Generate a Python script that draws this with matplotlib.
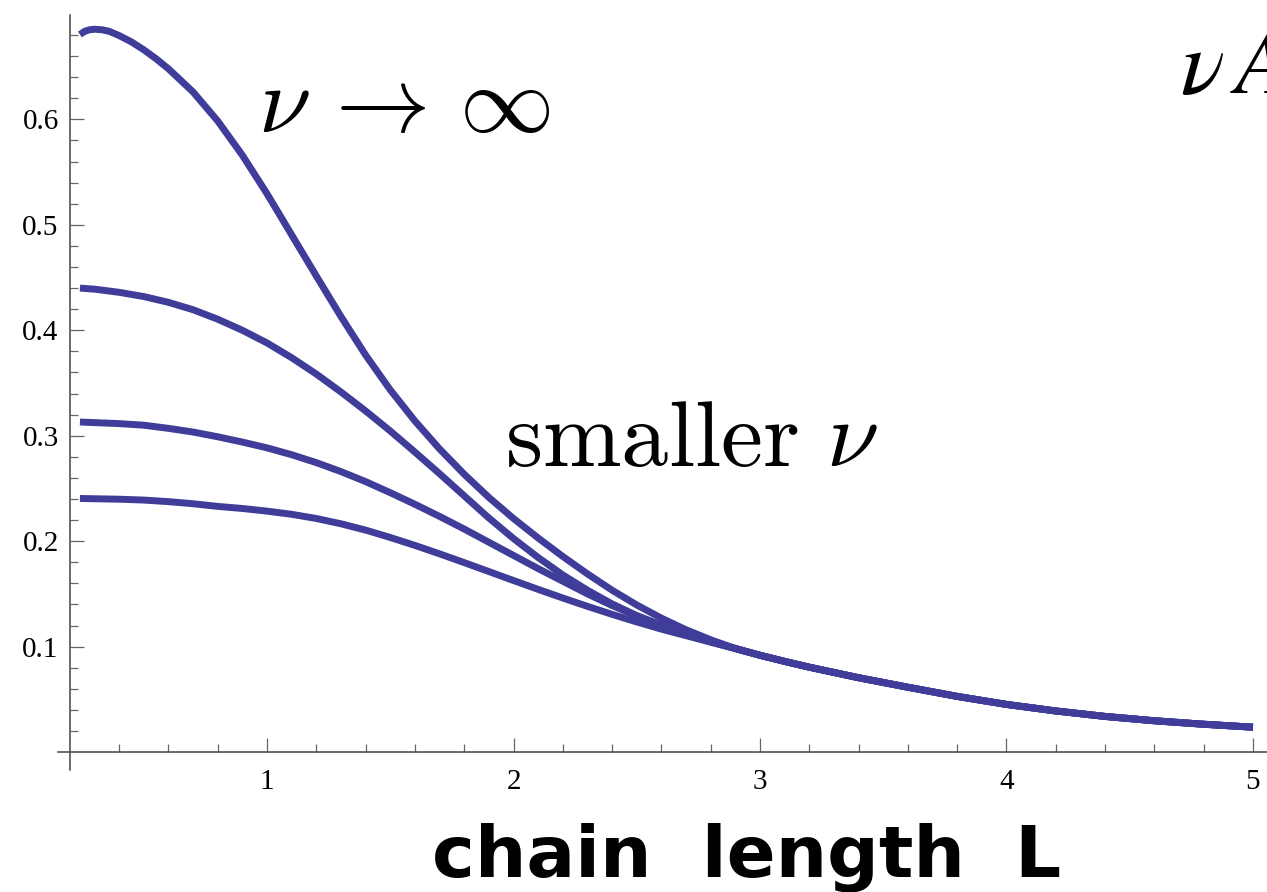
import numpy as np
import matplotlib
matplotlib.use("Agg")
import matplotlib.pyplot as plt
from matplotlib.ticker import FixedLocator

# nu A versus chain length L, one curve per nu (top = nu -> infinity)
x_top = [0.241, 0.26, 0.28, 0.30, 0.33, 0.36, 0.40, 0.45, 0.50, 0.55, 0.60, 0.70,
         0.80, 0.90, 1.00, 1.10, 1.20, 1.30, 1.40, 1.50, 1.60, 1.70, 1.80, 1.90,
         2.00, 2.10, 2.20, 2.30, 2.40, 2.50, 2.60, 2.70, 2.80]
y_top = [0.6805, 0.6835, 0.6850, 0.6855, 0.6850, 0.6835, 0.6795, 0.6735, 0.6660,
         0.6575, 0.6480, 0.6260, 0.5985, 0.5660, 0.5295, 0.4905, 0.4515, 0.4130,
         0.3765, 0.3435, 0.3140, 0.2875, 0.2635, 0.2415, 0.2215, 0.2030, 0.1855,
         0.1690, 0.1535, 0.1395, 0.1270, 0.1160, 0.1065]

x_mid = [0.241, 0.30, 0.40, 0.50, 0.60, 0.70, 0.80, 0.90, 1.00, 1.10, 1.20, 1.30,
         1.40, 1.50, 1.60, 1.70, 1.80, 1.90, 2.00, 2.10, 2.20, 2.30, 2.40, 2.50,
         2.60, 2.70, 2.80]
y_mid = [0.4400, 0.4390, 0.4360, 0.4320, 0.4265, 0.4195, 0.4105, 0.4000, 0.3880,
         0.3740, 0.3585, 0.3415, 0.3235, 0.3045, 0.2845, 0.2640, 0.2430, 0.2220,
         0.2025, 0.1845, 0.1680, 0.1535, 0.1405, 0.1295, 0.1205, 0.1125, 0.1052]

x_low = [0.241, 0.40, 0.50, 0.60, 0.70, 0.80, 0.90, 1.00, 1.10, 1.20, 1.30, 1.40,
         1.50, 1.60, 1.70, 1.80, 1.90, 2.00, 2.10, 2.20, 2.30, 2.40, 2.50, 2.60,
         2.70, 2.80]
y_low = [0.3130, 0.3115, 0.3100, 0.3070, 0.3035, 0.2990, 0.2940, 0.2885, 0.2820,
         0.2745, 0.2660, 0.2565, 0.2460, 0.2350, 0.2235, 0.2115, 0.1990, 0.1865,
         0.1740, 0.1620, 0.1500, 0.1390, 0.1290, 0.1195, 0.1115, 0.1045]

x_min = [0.241, 0.40, 0.50, 0.60, 0.70, 0.80, 0.90, 1.00, 1.10, 1.20, 1.30, 1.40,
         1.50, 1.60, 1.70, 1.80, 1.90, 2.00, 2.10, 2.20, 2.30, 2.40, 2.50, 2.60,
         2.70, 2.80]
y_min = [0.2405, 0.2398, 0.2390, 0.2375, 0.2355, 0.2330, 0.2310, 0.2285, 0.2255,
         0.2215, 0.2165, 0.2105, 0.2035, 0.1960, 0.1880, 0.1797, 0.1712, 0.1627,
         0.1543, 0.1461, 0.1382, 0.1306, 0.1234, 0.1166, 0.1104, 0.1042]

# common tail where the curves coincide
x_tail = [2.90, 3.00, 3.10, 3.20, 3.30, 3.40, 3.50, 3.60, 3.80, 4.00, 4.20, 4.40,
          4.60, 4.80, 5.00]
y_tail = [0.0982, 0.0918, 0.0860, 0.0805, 0.0755, 0.0705, 0.0660, 0.0615, 0.0528,
          0.0452, 0.0390, 0.0338, 0.0297, 0.0264, 0.0236]

curves = [(x_top, y_top), (x_mid, y_mid), (x_low, y_low), (x_min, y_min)]

line_color = "#3F3D99"
axis_color = "#444444"

fig = plt.figure(figsize=(12.67, 8.92), dpi=100)
ax = fig.add_axes([58 / 1267, 122 / 892, 1 - 58 / 1267, (770 - 15) / 892])

for xs, ys in curves:
    ax.plot(np.concatenate([xs, x_tail]), np.concatenate([ys, y_tail]),
            color=line_color, lw=5.0, solid_capstyle="butt", solid_joinstyle="round")

ax.set_xlim(0.152, 5.057)
ax.set_ylim(-0.017, 0.699)

# axes crossing at (0.2, 0)
ax.spines["left"].set_position(("data", 0.2))
ax.spines["bottom"].set_position(("data", 0.0))
ax.spines["right"].set_visible(False)
ax.spines["top"].set_visible(False)
for s in ("left", "bottom"):
    ax.spines[s].set_color(axis_color)
    ax.spines[s].set_linewidth(1.1)

ax.xaxis.set_major_locator(FixedLocator([1, 2, 3, 4, 5]))
ax.xaxis.set_minor_locator(FixedLocator([v / 5 for v in range(2, 26) if v % 5]))
ax.yaxis.set_major_locator(FixedLocator([0.1, 0.2, 0.3, 0.4, 0.5, 0.6]))
ax.yaxis.set_minor_locator(FixedLocator([v / 50 for v in range(0, 35) if v % 5]))
ax.set_xticklabels(["1", "2", "3", "4", "5"])
ax.set_yticklabels(["0.1", "0.2", "0.3", "0.4", "0.5", "0.6"])

ax.tick_params(which="both", direction="in", color="#666666", width=0.9,
               labelsize=21, labelcolor="black")
ax.tick_params(which="major", length=10)
ax.tick_params(which="minor", length=6)
ax.tick_params(axis="x", pad=12)
ax.tick_params(axis="y", pad=8)
for lab in ax.get_xticklabels() + ax.get_yticklabels():
    lab.set_fontfamily("Liberation Serif")

ax.text(0.963, 0.588, r"$\nu\,\rightarrow\,\infty$", fontsize=68,
        math_fontfamily="cm", va="baseline", ha="left")
ax.text(1.965, 0.271, r"$\mathrm{smaller}\ \nu$", fontsize=68,
        math_fontfamily="cm", va="baseline", ha="left")
ax.text(4.704, 0.6246, r"$\nu\, A$", fontsize=66, math_fontfamily="stix",
        va="baseline", ha="left", clip_on=False)

fig.text(747 / 1267, 15 / 892, "chain  length  L", fontsize=52,
         fontfamily="DejaVu Sans", fontweight="bold", ha="center", va="baseline")

fig.savefig("out.png", dpi=100)
